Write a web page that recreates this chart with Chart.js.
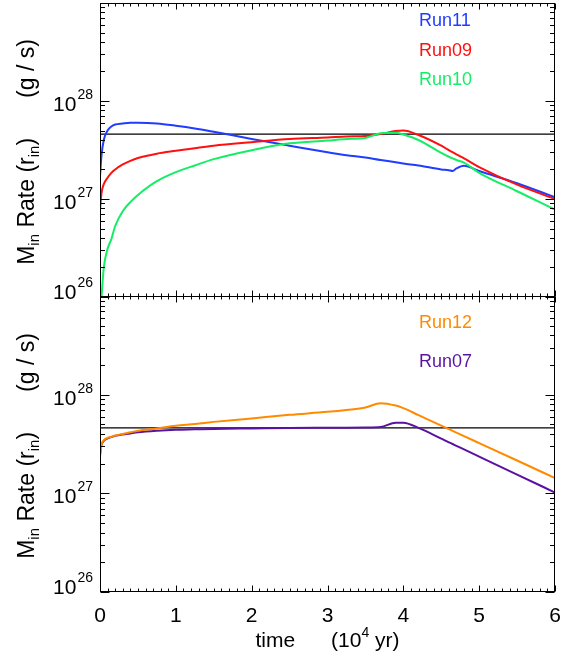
<!DOCTYPE html>
<html>
<head>
<meta charset="utf-8">
<script src="https://cdn.jsdelivr.net/npm/chart.js@4.4.0/dist/chart.umd.min.js"></script>
<style>
  html, body { margin: 0; padding: 0; background: #fff; }
  #wrap { position: relative; width: 561px; height: 658px; }
  canvas { position: absolute; left: 0; }
  #topChart { top: 0; }
  #bottomChart { top: 296px; }
</style>
</head>
<body>
<div id="wrap">
  <canvas id="topChart" width="561" height="300"></canvas>
  <canvas id="bottomChart" width="561" height="362"></canvas>
</div>
<script>
// time in units of 10^4 yr
const times = [0, 0.02, 0.05, 0.1, 0.15, 0.2, 0.3, 0.4, 0.5, 0.75, 1.0, 1.25, 1.5, 2.0, 2.5,
               3.0, 3.25, 3.5, 3.7, 3.9, 4.0, 4.2, 4.5, 4.6, 4.65, 4.7, 4.8, 5.0, 5.5, 6.0];

// mass inflow rate at r_in, g/s
const run11 = [1.7e27, 2.8e27, 4.0e27, 5.0e27, 5.5e27, 5.75e27, 5.9e27, 6.0e27, 6.0e27, 5.9e27,
               5.6e27, 5.25e27, 4.85e27, 4.1e27, 3.5e27, 3.0e27, 2.8e27, 2.65e27, 2.5e27, 2.37e27,
               2.3e27, 2.2e27, 2.0e27, 1.97e27, 1.93e27, 2.05e27, 2.18e27, 1.93e27, 1.45e27, 1.04e27];
const run09 = [0.78e27, 1.15e27, 1.42e27, 1.65e27, 1.85e27, 2.0e27, 2.25e27, 2.45e27, 2.62e27, 2.9e27,
               3.1e27, 3.3e27, 3.5e27, 3.8e27, 4.1e27, 4.25e27, 4.35e27, 4.4e27, 4.6e27, 4.95e27,
               5.0e27, 4.5e27, 3.5e27, 3.15e27, 3.0e27, 2.85e27, 2.6e27, 2.12e27, 1.4e27, 1.0e27];
const run10 = [null, 1.0e26, 2.0e26, 3.1e26, 3.9e26, 5.3e26, 7.5e26, 9.3e26, 1.1e27, 1.52e27,
               1.88e27, 2.2e27, 2.55e27, 3.15e27, 3.7e27, 3.95e27, 4.1e27, 4.2e27, 4.7e27, 4.75e27,
               4.55e27, 4.0e27, 2.95e27, 2.7e27, 2.6e27, 2.5e27, 2.35e27, 1.85e27, 1.2e27, 0.78e27];
const run12 = [2.3e27, 3.1e27, 3.45e27, 3.65e27, 3.75e27, 3.85e27, 4.0e27, 4.15e27, 4.3e27, 4.55e27,
               4.85e27, 5.05e27, 5.3e27, 5.75e27, 6.25e27, 6.7e27, 7.0e27, 7.4e27, 8.2e27, 7.75e27,
               7.3e27, 6.2e27, 4.85e27, 4.47e27, 4.29e27, 4.12e27, 3.8e27, 3.23e27, 2.15e27, 1.43e27];
const run07 = [2.5e27, 3.1e27, 3.4e27, 3.6e27, 3.72e27, 3.82e27, 3.95e27, 4.05e27, 4.15e27, 4.3e27,
               4.4e27, 4.45e27, 4.5e27, 4.55e27, 4.6e27, 4.62e27, 4.63e27, 4.65e27, 4.7e27, 5.2e27,
               5.2e27, 4.6e27, 3.58e27, 3.29e27, 3.16e27, 3.03e27, 2.79e27, 2.36e27, 1.55e27, 1.02e27];

// reference level drawn in both panels
const refTimes = [0, 6];
const refValues = [4.6e27, 4.6e27];

const xTickLabels = ['0', '1', '2', '3', '4', '5', '6'];
const yDecades = [26, 27, 28];

const FONT = '"Liberation Sans", Arial, Helvetica, sans-serif';

function toPoints(values) {
    return times.map((t, i) => ({ x: t, y: values[i] }));
}

function line(ctx, x1, y1, x2, y2) {
    ctx.beginPath();
    ctx.moveTo(x1, y1);
    ctx.lineTo(x2, y2);
    ctx.stroke();
}

// draws a row of text pieces centred on cx, pieces may be raised / lowered
function drawPieces(ctx, pieces, cx, baseY) {
    let total = 0;
    pieces.forEach(p => {
        if (p.gap) { total += p.gap; return; }
        ctx.font = p.size + 'px ' + FONT;
        p.w = ctx.measureText(p.text).width;
        total += p.w;
    });
    let x = cx - total / 2;
    ctx.textAlign = 'left';
    pieces.forEach(p => {
        if (p.gap) { x += p.gap; return; }
        ctx.font = p.size + 'px ' + FONT;
        ctx.fillText(p.text, x, baseY + (p.dy || 0));
        x += p.w;
    });
}

function panelPlugin(cfg) {
    return {
        id: 'panelFrame',
        afterDatasetsDraw(chart) {
            const ctx = chart.ctx;
            const area = chart.chartArea;
            const xs = chart.scales.x;
            const ys = chart.scales.y;
            const L = Math.round(area.left) + 0.5;
            const R = Math.round(area.right) - 0.5;
            const T = Math.round(area.top) + 0.5;
            const B = Math.round(area.bottom) - 0.5;

            ctx.save();
            ctx.strokeStyle = '#000';
            ctx.fillStyle = '#000';
            ctx.lineWidth = 1;
            ctx.strokeRect(L, T, R - L, B - T);

            // x ticks, top and bottom, pointing in
            for (let i = 0; i <= 60; i++) {
                const px = Math.round(xs.getPixelForValue(i / 10)) + 0.5;
                const len = i % 10 === 0 ? 6 : 3;
                line(ctx, px, B, px, B - len);
                line(ctx, px, T, px, T + len);
            }

            // log y ticks, left and right
            yDecades.forEach(d => {
                for (let m = 1; m <= 9; m++) {
                    const py = Math.round(ys.getPixelForValue(m * Math.pow(10, d))) + 0.5;
                    const len = m === 1 ? 9 : 4.5;
                    line(ctx, L, py, L + len, py);
                    line(ctx, R, py, R - len, py);
                }
            });

            // y tick labels 10^n
            ctx.textBaseline = 'alphabetic';
            yDecades.forEach((d, i) => {
                const py = ys.getPixelForValue(Math.pow(10, d));
                const shift = i === 0 ? -8 : 0;
                ctx.textAlign = 'right';
                ctx.font = '14px ' + FONT;
                const exp = String(d);
                ctx.fillText(exp, area.left - 7, py - 2 + shift);
                const w = ctx.measureText(exp).width;
                ctx.font = '21px ' + FONT;
                ctx.fillText('10', area.left - 7 - w - 1, py + 10 + shift);
            });

            // legend text
            ctx.textAlign = 'left';
            ctx.font = '18px ' + FONT;
            cfg.legend.forEach(item => {
                ctx.fillStyle = item.color;
                ctx.fillText(item.label, area.right - 136, area.top + item.dy);
            });
            ctx.fillStyle = '#000';

            // rotated y title
            ctx.save();
            ctx.translate(34, (area.top + area.bottom) / 2 + 2);
            ctx.rotate(-Math.PI / 2);
            drawPieces(ctx, [
                { text: 'M', size: 23 },
                { text: 'in', size: 15, dy: 5 },
                { text: ' Rate (r', size: 23 },
                { text: 'in', size: 15, dy: 5 },
                { text: ')', size: 23 },
                { gap: 40 },
                { text: '(g / s)', size: 23 }
            ], 0, 0);
            ctx.restore();

            if (cfg.xLabels) {
                ctx.textAlign = 'center';
                ctx.font = '21px ' + FONT;
                xTickLabels.forEach((lab, i) => {
                    ctx.fillText(lab, xs.getPixelForValue(i), area.bottom + 30);
                });
                drawPieces(ctx, [
                    { text: 'time', size: 21 },
                    { gap: 36 },
                    { text: '(10', size: 21 },
                    { text: '4', size: 14, dy: -10 },
                    { text: ' yr)', size: 21 }
                ], (area.left + area.right) / 2, area.bottom + 55);
            }
            ctx.restore();
        }
    };
}

function makePanel(canvasId, series, cfg) {
    const datasets = series.map(s => ({
        label: s.label,
        data: toPoints(s.values),
        borderColor: s.color,
        borderWidth: 2,
        pointRadius: 0,
        fill: false,
        cubicInterpolationMode: 'monotone',
        order: s.order
    }));
    datasets.push({
        label: 'ref',
        data: refTimes.map((t, i) => ({ x: t, y: refValues[i] })),
        borderColor: '#000',
        borderWidth: 1.2,
        pointRadius: 0,
        fill: false,
        order: 10
    });

    return new Chart(document.getElementById(canvasId), {
        type: 'line',
        data: { datasets: datasets },
        options: {
            responsive: false,
            animation: false,
            events: [],
            layout: { padding: cfg.padding },
            plugins: {
                legend: { display: false },
                tooltip: { enabled: false }
            },
            scales: {
                x: { type: 'linear', min: 0, max: 6, display: false },
                y: { type: 'logarithmic', min: 1e26, max: 1e29, display: false }
            }
        },
        plugins: [panelPlugin(cfg)]
    });
}

const BLUE = '#1f3cff';
const RED = '#ff1010';
const GREEN = '#14ee66';
const ORANGE = '#ff8a00';
const PURPLE = '#5a12a2';

makePanel('topChart', [
    { label: 'Run11', values: run11, color: BLUE, order: 3 },
    { label: 'Run09', values: run09, color: RED, order: 2 },
    { label: 'Run10', values: run10, color: GREEN, order: 1 }
], {
    padding: { left: 100, right: 6, top: 3, bottom: 3 },
    legend: [
        { label: 'Run11', color: BLUE, dy: 23 },
        { label: 'Run09', color: RED, dy: 52.5 },
        { label: 'Run10', color: GREEN, dy: 82 }
    ],
    xLabels: false
});

makePanel('bottomChart', [
    { label: 'Run12', values: run12, color: ORANGE, order: 1 },
    { label: 'Run07', values: run07, color: PURPLE, order: 2 }
], {
    padding: { left: 100, right: 6, top: 0, bottom: 66 },
    legend: [
        { label: 'Run12', color: ORANGE, dy: 32 },
        { label: 'Run07', color: PURPLE, dy: 71 }
    ],
    xLabels: true
});
</script>
</body>
</html>
